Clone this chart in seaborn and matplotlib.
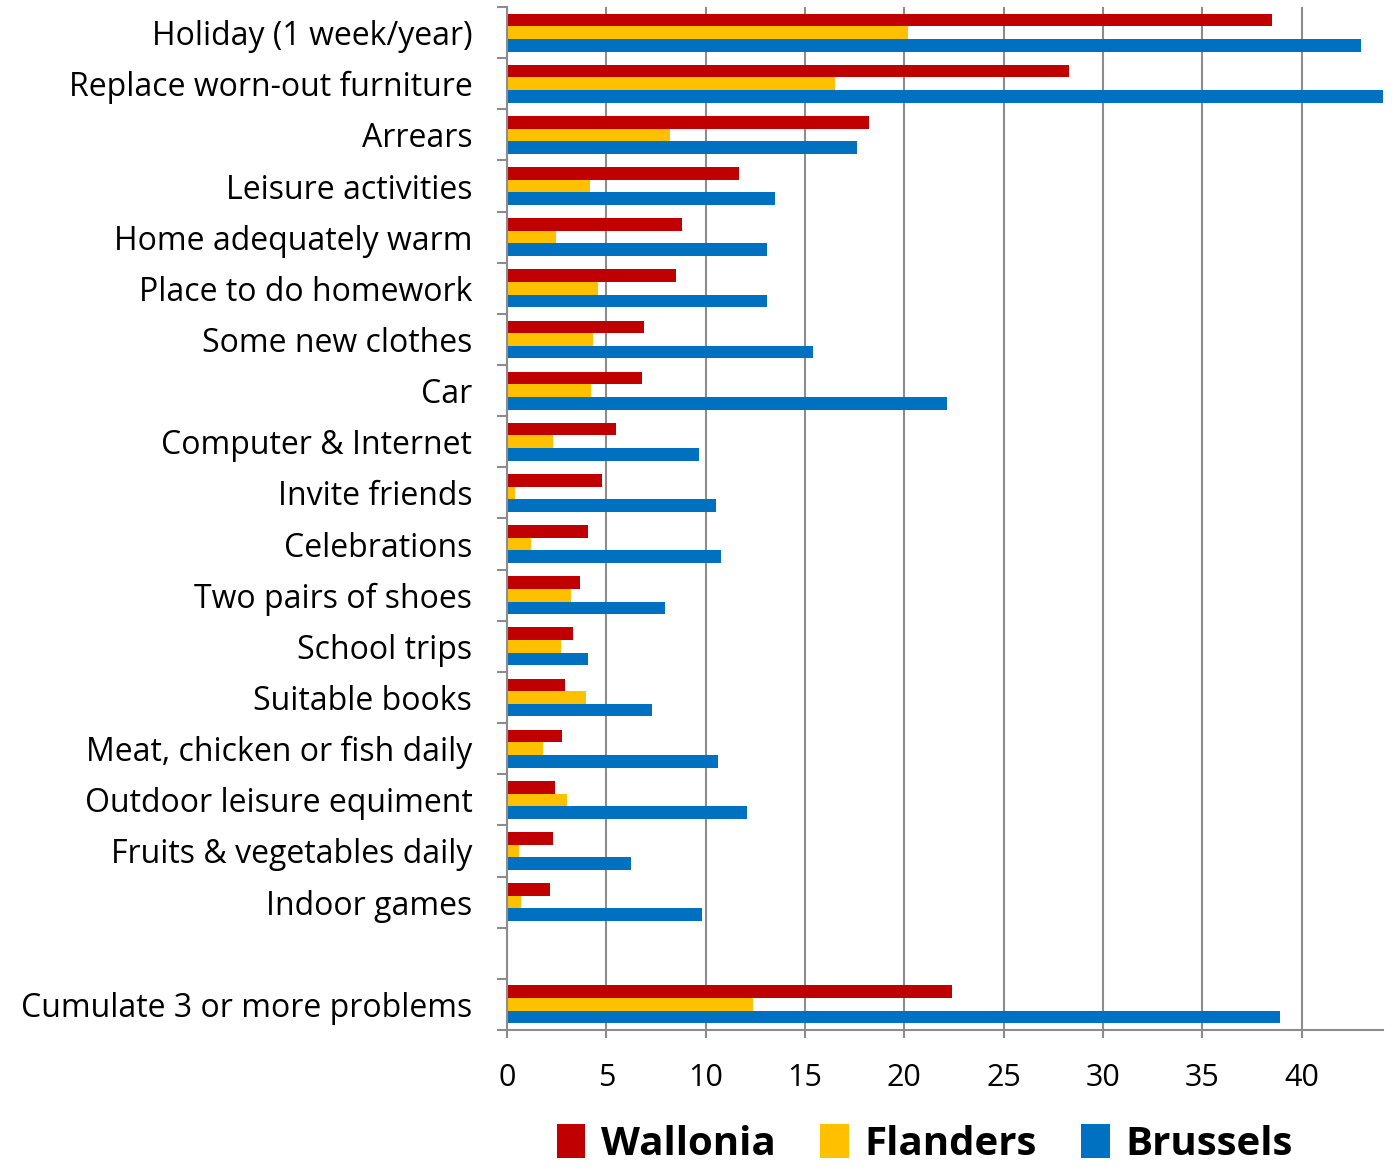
import matplotlib
matplotlib.use("Agg")
import matplotlib.pyplot as plt
import seaborn as sns
import pandas as pd
import numpy as np
from matplotlib.ticker import FixedLocator
from matplotlib.patches import Patch

categories = [
    "Holiday (1 week/year)", "Replace worn-out furniture", "Arrears",
    "Leisure activities", "Home adequately warm", "Place to do homework",
    "Some new clothes", "Car", "Computer & Internet", "Invite friends",
    "Celebrations", "Two pairs of shoes", "School trips", "Suitable books",
    "Meat, chicken or fish daily", "Outdoor leisure equiment",
    "Fruits & vegetables daily", "Indoor games", "Cumulate 3 or more problems",
]
wallonia = [38.5, 28.3, 18.2, 11.7, 8.8, 8.5, 6.9, 6.8, 5.5, 4.8, 4.1, 3.65,
            3.3, 2.9, 2.75, 2.4, 2.3, 2.15, 22.4]
flanders = [20.2, 16.5, 8.2, 4.2, 2.45, 4.6, 4.35, 4.25, 2.3, 0.42, 1.2, 3.2,
            2.7, 4.0, 1.8, 3.0, 0.6, 0.72, 12.4]
brussels = [43.0, 44.5, 17.6, 13.5, 13.1, 13.1, 15.4, 22.15, 9.65, 10.5, 10.75,
            7.95, 4.1, 7.3, 10.6, 12.1, 6.25, 9.8, 38.9]
series_names = ["Wallonia", "Flanders", "Brussels"]
series_colors = ["#C00000", "#FFC000", "#0070C0"]
x_ticks = [0, 5, 10, 15, 20, 25, 30, 35, 40]
blank_slot = " "

order = categories[:-1] + [blank_slot] + [categories[-1]]

df = pd.DataFrame({
    "item": categories * 3,
    "value": wallonia + flanders + brussels,
    "region": [s for s in series_names for _ in categories],
})

sns.set_theme(style="white")
plt.rcParams["font.family"] = ["Open Sans", "DejaVu Sans"]
plt.rcParams["text.color"] = "black"

W, H = 1397, 1172
fig = plt.figure(figsize=(W / 100, H / 100), dpi=100)
ax = fig.add_axes([507 / W, 1 - 1030 / H, (1383 - 507) / W, (1030 - 7) / H])

sns.barplot(data=df, y="item", x="value", hue="region", order=order,
            hue_order=series_names, palette=series_colors, width=0.74,
            orient="h", ax=ax, saturation=1, legend=False,
            edgecolor="none", linewidth=0, errorbar=None)

grey = "#8c8c8c"
ax.set_xlim(0, 44.1)
ax.set_ylim(19.5, -0.5)
ax.set_xticks(x_ticks)
ax.set_xticklabels([str(t) for t in x_ticks])
ax.set_axisbelow(True)
ax.xaxis.grid(True, color=grey, linewidth=1.5)
ax.yaxis.grid(False)
ax.set_xlabel("")
ax.set_ylabel("")

ax.yaxis.set_minor_locator(FixedLocator(np.arange(-0.5, 20, 1)))
ax.tick_params(axis="y", which="major", length=0, pad=25, labelsize=23,
               labelcolor="black")
ax.tick_params(axis="y", which="minor", left=True, length=7, width=1.5,
               color=grey, direction="out")
ax.tick_params(axis="x", which="major", bottom=True, length=6, width=1.5,
               color=grey, pad=18, labelsize=22, labelcolor="black")

for side in ["top", "right"]:
    ax.spines[side].set_visible(False)
for side in ["left", "bottom"]:
    ax.spines[side].set_color(grey)
    ax.spines[side].set_linewidth(1.5)

handles = [Patch(facecolor=c, edgecolor="none", label=n)
           for n, c in zip(series_names, series_colors)]
leg = fig.legend(handles=handles, loc="lower center", ncol=3,
                 bbox_to_anchor=(925 / W, -0.024), frameon=False,
                 prop={"weight": "bold", "size": 29}, handlelength=0.7,
                 handleheight=0.9, handletextpad=0.4, columnspacing=1.1)
for t in leg.get_texts():
    t.set_color("black")

fig.savefig("out.png", dpi=100)
